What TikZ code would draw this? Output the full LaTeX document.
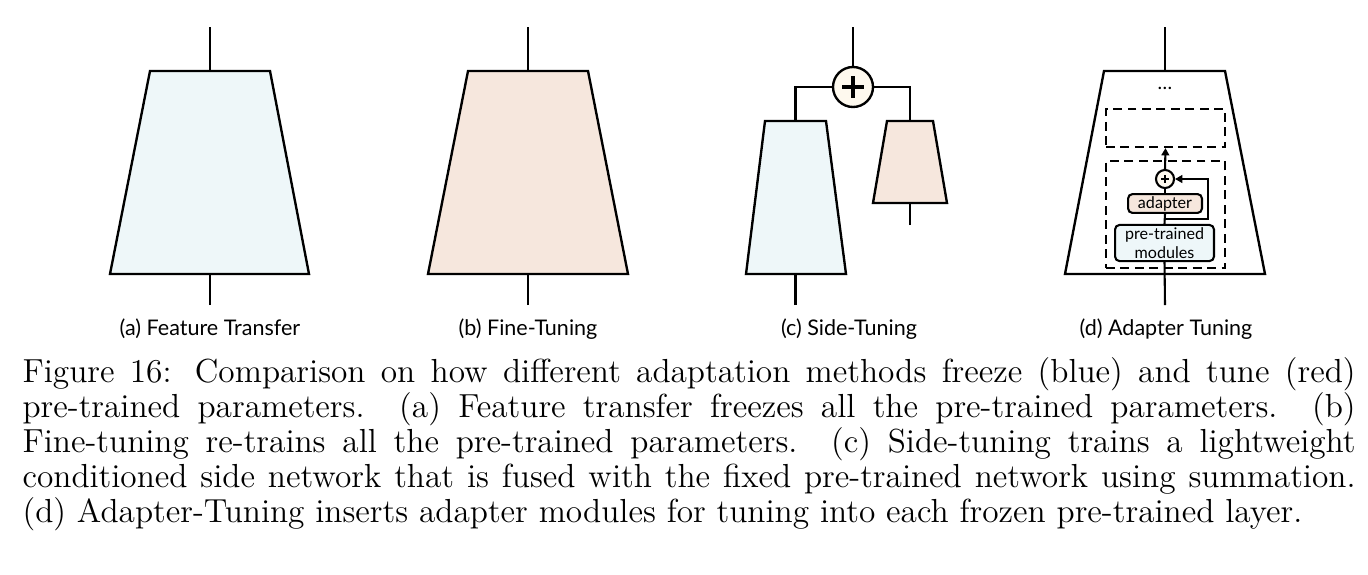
\documentclass[tikz,border=0pt]{standalone}
\usepackage{fontspec}
\newfontfamily\lab{Lato}
\usetikzlibrary{arrows.meta,calc}
\definecolor{frz}{HTML}{EEF7F9}
\definecolor{tun}{HTML}{F6E7DD}
\definecolor{sumfill}{HTML}{FEF9EE}
\begin{document}
\begin{tikzpicture}[x=0.36pt,y=-0.36pt,line join=miter,
  edge/.style={line width=0.85pt},
  inedge/.style={line width=0.75pt},
  trap/.style={draw,line width=0.85pt},
  sublabel/.style={anchor=base,inner sep=0pt,font=\lab\fontsize{7.75}{8}\selectfont},
  dbox/.style={draw,line width=0.8pt,dash pattern=on 3.2pt off 2pt,minimum width=42.84pt,inner sep=0pt},
  modbox/.style={draw,line width=0.75pt,rounded corners=1.6pt,inner sep=0pt,align=center,font=\lab\fontsize{5.8}{6.6}\selectfont},
  tip/.style={-{Triangle[length=2.6pt,width=2.8pt]}}]
\useasboundingbox (0,0) rectangle (1368,574);

% ---------- (a) Feature Transfer
\draw[trap,fill=frz] (150,71) -- (270,71) -- (309,274) -- (110,274) -- cycle;
\coordinate (aT) at (210,71); \coordinate (aB) at (210,274);
\coordinate (aOut) at (210,27); \coordinate (aIn) at (210,305);
\draw[edge] (aT) -- (aOut);
\draw[edge] (aIn) -- (aB);
\node[sublabel] (la) at (210,335) {(a) Feature Transfer};

% ---------- (b) Fine-Tuning
\draw[trap,fill=tun] (468,71) -- (588,71) -- (628,274) -- (428,274) -- cycle;
\coordinate (bT) at (528,71); \coordinate (bB) at (528,274);
\coordinate (bOut) at (528,27); \coordinate (bIn) at (528,305);
\draw[edge] (bT) -- (bOut);
\draw[edge] (bIn) -- (bB);
\node[sublabel] (lb) at (528,335) {(b) Fine-Tuning};

% ---------- (c) Side-Tuning
\draw[trap,fill=frz] (765,121) -- (826,121) -- (846,274) -- (746,274) -- cycle;
\draw[trap,fill=tun] (887,121) -- (933,121) -- (947,203) -- (873,203) -- cycle;
\coordinate (cLT) at (795.5,121); \coordinate (cLB) at (795.5,274);
\coordinate (cRT) at (910,121); \coordinate (cRB) at (910,203);
\coordinate (cLIn) at (795.5,305); \coordinate (cRIn) at (910,225);
\coordinate (cOut) at (853,27);
\node[draw,circle,line width=0.85pt,fill=sumfill,minimum size=14.4pt,inner sep=0pt] (cs) at (853,87) {};
\draw[line width=1.3pt] (842,87) -- (864,87) (853,76) -- (853,98);
\draw[edge] (cs.north) -- (cOut);
\draw[edge] (cs.west) -| (cLT);
\draw[edge] (cs.east) -| (cRT);
\draw[edge] (cLIn) -- (cLB);
\draw[edge] (cRIn) -- (cRB);
\node[sublabel] (lc) at (849,335) {(c) Side-Tuning};

% ---------- (d) Adapter Tuning
\draw[trap,fill=white] (1104,71) -- (1225,71) -- (1265,274) -- (1065,274) -- cycle;
\coordinate (dT) at (1165,71); \coordinate (dOut) at (1165,27);
\coordinate (dIn) at (1165,305);
\draw[edge] (dT) -- (dOut);
\node[inner sep=0pt,font=\lab\fontsize{7}{8}\selectfont] (dots) at (1165,88) {\dots};
\node[dbox,minimum height=13.68pt] (box1) at (1165.5,128) {};
\node[dbox,minimum height=38.52pt] (box2) at (1165.5,214.5) {};
\node[modbox,fill=frz,minimum width=35.6pt,minimum height=13pt] (pre) at (1164.5,243) {pre-trained\\modules};
\node[modbox,fill=tun,minimum width=26.6pt,minimum height=6.8pt] (ad) at (1165,203.5) {adapter};
\node[draw,circle,line width=0.75pt,fill=sumfill,minimum size=6.5pt,inner sep=0pt] (cd) at (1165,179) {};
\draw[line width=0.45pt] (1161,179) -- (1169,179) (1165,175) -- (1165,183);
\coordinate (sk) at (1165,219);
\draw[inedge] (dIn) -- (pre.south);
\draw[inedge] (pre.north) -- (ad.south);
\draw[inedge] (ad.north) -- (cd.south);
\draw[inedge,tip] (cd.north) -- (box1.south);
\draw[inedge,tip] (sk) -- (1208,219) |- (cd.east);
\node[sublabel] (ld) at (1166,335) {(d) Adapter Tuning};

% ---------- caption (anchor = baseline of its last line)
\node[anchor=base west,inner sep=0pt,align=left,font=\fontsize{12}{12.6}\selectfont] (caption) at (22,522) {%
\makebox[479.9pt][s]{Figure 16: Comparison on how different adaptation methods freeze (blue) and tune (red)}\\
\makebox[479.9pt][s]{pre-trained parameters.\ \ (a) Feature transfer freezes all the pre-trained parameters.\ \ (b)}\\
\makebox[479.9pt][s]{Fine-tuning re-trains all the pre-trained parameters.\ \ (c) Side-tuning trains a lightweight}\\
\makebox[479.9pt][s]{conditioned side network that is fused with the fixed pre-trained network using summation.}\\
(d) Adapter-Tuning inserts adapter modules for tuning into each frozen pre-trained layer.};
\end{tikzpicture}
\end{document}
